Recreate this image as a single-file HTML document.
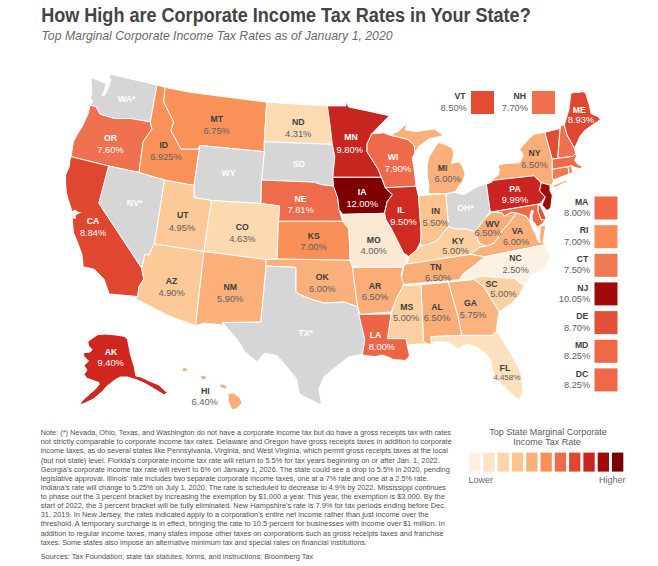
<!DOCTYPE html>
<html><head><meta charset="utf-8"><style>
html,body{margin:0;padding:0;background:#fff;}
body{width:658px;height:566px;overflow:hidden;position:relative;font-family:"Liberation Sans",sans-serif;}
svg{position:absolute;left:0;top:0;}
.c{font-family:"Liberation Sans",sans-serif;font-weight:bold;font-size:8.7px;text-anchor:middle;}
.r{font-family:"Liberation Sans",sans-serif;font-size:9.3px;text-anchor:middle;}
.e{text-anchor:end;}
.n{font-family:"Liberation Sans",sans-serif;font-size:7.2px;fill:#4f4f4f;}
.t{font-family:"Liberation Sans",sans-serif;font-weight:bold;font-size:20px;fill:#444444;}
.s{font-family:"Liberation Sans",sans-serif;font-style:italic;font-size:13px;fill:#6a6a6a;}
.lt{font-family:"Liberation Sans",sans-serif;font-size:9px;fill:#5a5a5a;text-anchor:middle;}
.lh{font-family:"Liberation Sans",sans-serif;font-size:9px;fill:#6a6a6a;}
</style></head><body>
<svg width="658" height="566" viewBox="0 0 658 566">
<text x="41.2" y="22.4" class="t" textLength="489.5" lengthAdjust="spacingAndGlyphs">How High are Corporate Income Tax Rates in Your State?</text>
<text x="41.5" y="40.1" class="s" textLength="351" lengthAdjust="spacingAndGlyphs">Top Marginal Corporate Income Tax Rates as of January 1, 2020</text>
<g stroke="#ffffff" stroke-width="1" stroke-linejoin="round">
<polygon fill="#d6d6d6" points="90.9,77.5 98.0,80.0 105.2,83.4 108.0,79.0 110.2,74.2 157.0,85.0 150.3,121.9 130.2,118.5 115.2,118.5 100.1,114.3 96.0,106.8 90.1,105.1 92.6,101.0 90.1,96.8 91.8,95.1"/>
<polygon fill="#f07150" points="90.1,105.1 96.0,106.8 100.1,114.3 115.2,118.5 130.2,118.5 150.3,121.9 152.0,129.0 143.0,142.0 139.0,172.5 108.6,166.0 71.0,156.6 73.4,141.8 78.0,133.0 82.0,127.0 88.0,114.0"/>
<polygon fill="#f99159" points="157.0,85.0 165.0,87.3 163.8,102.0 173.7,122.0 171.0,130.6 181.0,149.0 198.0,149.0 199.9,145.5 194.0,185.5 164.3,180.0 139.0,172.5 143.0,142.0 152.0,129.0 150.3,121.9"/>
<polygon fill="#f99159" points="165.0,87.3 190.0,92.3 266.7,102.2 264.3,141.8 264.3,151.7 199.9,145.5 198.0,149.0 181.0,149.0 171.0,130.6 173.7,122.0 163.8,102.0"/>
<polygon fill="#fcdbb3" points="266.7,102.2 327.4,105.9 330.0,125.0 332.3,144.3 264.3,141.8"/>
<polygon fill="#d6d6d6" points="264.3,141.8 332.3,144.3 334.8,156.6 332.8,177.3 336.0,186.3 331.6,185.9 321.7,184.7 314.3,182.2 261.5,180.0 264.3,151.7"/>
<polygon fill="#d6d6d6" points="199.9,145.5 264.3,151.7 261.5,180.0 261.0,203.5 211.3,200.5 194.0,197.5 194.0,185.5"/>
<polygon fill="#ee6b4b" points="261.5,180.0 314.3,182.2 321.7,184.7 331.6,185.9 336.0,186.3 337.8,198.3 339.0,209.4 342.7,221.3 278.4,221.3 279.6,206.0 261.0,203.5"/>
<polygon fill="#fcd9ae" points="211.3,200.5 261.0,203.5 279.6,206.0 278.4,221.3 277.1,258.9 266.1,259.5 203.9,251.5"/>
<polygon fill="#fbca98" points="164.3,180.0 194.0,185.5 194.0,197.5 211.3,200.5 203.9,251.5 154.4,244.0"/>
<polygon fill="#d6d6d6" points="108.6,166.0 139.0,172.5 164.3,180.0 154.4,244.0 153.5,245.0 149.2,255.0 144.7,254.6 143.8,260.0 141.5,268.0 98.8,203.2"/>
<polygon fill="#e04730" points="71.0,156.6 108.6,166.0 98.8,203.2 141.5,268.0 143.9,279.2 139.0,286.6 137.7,296.5 109.2,294.0 104.0,279.2 94.4,269.3 83.2,266.8 82.0,254.5 78.3,244.6 73.3,232.0 72.5,222.0 72.0,212.2 70.6,206.6 67.7,198.1 66.3,192.4 65.6,184.0 65.5,175.0 69.1,167.0 70.0,160.0"/>
<polygon fill="#fbca98" points="154.4,244.0 203.9,251.5 195.6,325.6 168.4,315.7 135.0,298.4 137.7,296.5 139.0,286.6 143.9,279.2 141.5,268.0 143.8,260.0 144.7,254.6 149.2,255.0 153.5,245.0"/>
<polygon fill="#fbb079" points="203.9,251.5 266.1,259.5 266.1,266.1 260.8,322.2 222.5,322.5 223.0,325.0 204.3,323.1 195.6,325.6"/>
<polygon fill="#fbb07c" points="266.1,259.5 277.1,258.9 350.1,260.1 352.7,267.3 354.0,279.7 357.7,306.9 344.0,302.0 324.3,303.2 311.9,299.5 299.5,294.6 295.8,292.1 295.8,267.3 266.1,266.1"/>
<polygon fill="#f99058" points="278.4,221.3 342.7,221.3 348.9,229.2 350.1,260.1 277.1,258.9"/>
<polygon fill="#d6d6d6" points="266.1,266.1 295.8,267.3 295.8,292.1 299.5,294.6 311.9,299.5 324.3,303.2 344.0,302.0 357.7,306.9 358.6,313.5 364.8,339.5 362.3,354.4 348.7,356.8 336.3,366.7 324.0,376.6 319.0,389.0 321.5,405.1 309.1,398.9 299.2,394.0 296.7,379.1 286.8,366.7 277.0,355.6 264.6,353.1 257.1,361.8 244.8,351.9 237.3,339.5 222.5,322.5 260.8,322.2"/>
<polygon fill="#c92520" points="327.4,105.9 346.0,105.9 346.0,101.0 348.6,107.0 367.0,110.8 389.4,115.8 371.7,133.8 367.0,144.0 367.0,151.7 378.0,169.0 381.5,177.3 332.8,177.3 334.8,156.6 332.3,144.3 330.0,125.0"/>
<polygon fill="#7f0000" points="332.8,177.3 381.5,177.3 385.4,187.7 392.4,194.7 387.1,201.8 384.5,213.3 342.7,214.4 339.0,209.4 337.8,198.3 333.5,186.0"/>
<polygon fill="#fde8d3" points="342.7,214.4 384.5,213.3 385.9,219.5 391.2,228.3 396.5,238.9 403.6,253.0 407.1,258.3 405.3,263.6 403.0,267.0 398.5,267.3 352.7,267.3 350.1,260.1 348.9,229.2 342.7,221.3"/>
<polygon fill="#ee6a4a" points="371.7,133.8 383.8,132.8 390.0,135.2 396.0,136.5 408.1,139.5 414.2,145.2 415.0,152.8 412.3,157.7 413.8,167.2 416.2,186.3 385.4,187.7 381.5,177.3 378.0,169.0 367.0,151.7 367.0,144.0"/>
<polygon fill="#fbb07c" points="390.0,135.2 398.0,131.5 404.3,125.9 407.5,122.7 405.1,129.9 417.0,131.5 426.6,129.9 434.5,129.1 439.3,132.3 443.3,135.4 437.7,137.0 429.7,138.6 425.0,141.8 418.6,146.6 415.0,152.8 414.2,145.2 408.1,139.5 396.0,136.5"/>
<polygon fill="#fbb07c" points="438.7,142.5 444.5,144.2 451.4,147.6 453.7,152.2 453.1,158.0 451.4,163.7 456.0,162.0 460.0,162.6 462.9,167.2 465.2,174.1 462.9,181.0 458.3,186.7 456.0,191.3 447.9,193.8 428.4,193.8 429.0,185.6 427.2,175.2 427.2,164.9 429.5,155.7 433.0,151.1 435.3,146.5"/>
<polygon fill="#cf2b21" points="385.4,187.7 416.2,186.3 417.7,193.0 418.6,196.5 421.2,233.6 420.4,242.4 416.8,249.5 408.9,256.6 403.6,253.0 396.5,238.9 391.2,228.3 385.9,219.5 384.5,213.3 387.1,201.8 392.4,194.7"/>
<polygon fill="#fcc38e" points="418.6,195.6 446.0,193.9 448.6,226.5 442.4,233.6 437.1,240.7 426.5,245.1 420.4,246.0 420.4,242.4 421.2,233.6"/>
<polygon fill="#d6d6d6" points="446.0,193.9 453.0,192.0 463.6,194.7 479.0,185.9 486.4,184.3 490.3,212.1 484.0,219.3 475.3,231.7 466.0,229.0 456.7,229.2 448.6,226.5"/>
<polygon fill="#fcd0a0" points="420.4,246.0 426.5,245.1 437.1,240.7 442.4,233.6 448.6,226.5 456.7,229.2 466.0,229.0 475.3,231.7 479.0,242.8 486.4,246.3 480.2,247.0 470.5,254.3 407.3,264.0 408.9,256.6 416.8,249.5"/>
<polygon fill="#fbad78" points="407.3,264.0 470.5,254.3 485.1,256.7 473.0,266.5 463.2,273.8 459.6,279.8 400.0,284.7 403.6,267.3 405.3,263.6"/>
<polygon fill="#fbad78" points="491.9,212.1 502.3,212.9 503.8,216.1 511.8,212.1 516.6,212.9 511.8,219.3 508.6,224.0 502.3,230.4 497.5,238.4 494.3,243.1 486.4,246.3 479.0,242.8 475.3,231.7 484.0,219.3"/>
<polygon fill="#fbb07c" points="486.4,246.3 494.3,243.1 497.5,238.4 502.3,230.4 508.6,224.0 511.8,219.3 516.6,212.9 526.1,216.1 530.9,222.5 537.2,227.2 540.4,236.8 541.2,241.5 545.9,244.6 485.1,256.7 470.5,254.3 480.2,247.0"/>
<polygon fill="#fdf1e4" points="485.1,256.7 545.9,244.6 550.8,256.7 545.9,266.5 531.3,276.2 524.0,285.9 514.3,278.6 497.3,277.4 482.7,276.2 473.0,278.6 459.6,279.8 463.2,273.8 473.0,266.5"/>
<polygon fill="#fcd0a0" points="473.0,278.6 482.7,276.2 497.3,277.4 514.3,278.6 524.0,285.9 519.2,295.7 511.9,303.0 499.0,311.9 484.0,287.1"/>
<polygon fill="#fbb37f" points="448.2,282.2 471.7,279.7 473.0,278.6 484.0,287.1 499.0,311.9 497.7,319.3 496.4,331.7 491.5,335.4 461.8,335.4 458.0,316.8"/>
<polygon fill="#fbad78" points="421.0,284.7 448.2,282.2 458.0,316.8 461.8,335.4 430.8,336.6 432.0,344.0 427.1,344.0 423.4,341.6"/>
<polygon fill="#fcd0a0" points="400.0,285.9 421.0,284.7 423.4,341.6 427.1,344.0 417.2,344.0 408.0,345.0 406.0,338.7 387.4,338.7 389.9,321.8 391.1,313.9 396.0,299.5 403.5,284.7"/>
<polygon fill="#fbad78" points="352.7,267.3 398.5,267.3 403.0,267.0 401.0,274.8 403.5,284.7 396.0,299.5 391.1,311.9 360.1,314.4 357.7,306.9 354.0,279.7"/>
<polygon fill="#ec6546" points="360.1,314.4 391.1,313.9 389.9,321.8 387.4,338.7 406.0,338.7 407.9,348.7 409.5,355.0 408.0,358.0 405.0,360.5 400.0,360.0 393.3,359.6 388.0,357.0 382.3,355.0 375.0,356.5 368.7,356.0 362.3,355.0 364.8,339.5 358.6,313.5"/>
<polygon fill="#fde0bd" points="430.8,336.6 461.8,335.4 491.5,335.4 496.4,331.7 499.4,335.0 511.8,354.8 521.7,374.6 523.0,391.9 519.2,400.5 509.3,391.9 497.0,379.5 492.0,369.6 490.5,360.0 485.7,353.7 478.8,348.3 469.2,344.2 462.0,346.0 458.3,349.0 453.0,345.0 447.4,342.1 435.0,341.4 432.0,344.0"/>
<polygon fill="#cc2420" points="486.4,184.3 491.9,181.9 492.7,179.5 534.0,175.6 541.2,182.7 539.6,190.7 545.2,197.0 540.4,203.4 538.0,204.2 490.3,212.1"/>
<polygon fill="#fbad78" points="492.4,180.4 494.0,178.0 498.5,175.0 499.3,169.8 498.0,165.5 504.0,163.7 513.0,163.0 519.6,162.8 523.3,155.4 519.6,149.2 533.2,134.4 544.8,132.3 552.3,159.2 552.3,169.4 552.5,179.0 554.1,179.6 552.0,185.0 550.0,185.1 541.2,182.7 534.0,175.6"/>
<polygon fill="#fca66f" points="552.0,186.0 566.0,180.0 568.0,181.0 555.0,187.5"/>
<polygon fill="#a00a0a" points="541.2,182.7 550.0,185.1 550.0,190.7 552.3,195.4 550.7,208.2 546.8,210.5 542.0,205.0 545.2,197.0 539.6,190.7"/>
<polygon fill="#e34c33" points="544.8,132.3 559.7,128.6 560.6,125.8 559.7,133.2 557.8,158.3 552.3,159.2"/>
<polygon fill="#f07150" points="564.3,124.9 567.1,135.1 574.5,148.1 575.5,153.6 572.7,156.4 557.8,158.3 559.7,133.2 560.6,125.8"/>
<polygon fill="#e04730" points="570.8,93.3 574.5,92.4 579.2,92.4 582.9,91.5 585.7,93.3 589.4,105.4 591.2,113.8 597.7,116.5 600.5,119.3 596.8,122.1 591.2,125.8 584.7,130.5 580.1,136.0 577.3,142.5 574.5,148.1 567.1,135.1 564.3,124.9 569.0,109.1"/>
<polygon fill="#f06a48" points="552.3,159.2 557.8,158.3 572.7,156.4 575.5,153.6 576.4,156.4 574.5,160.1 578.2,164.8 582.9,166.6 580.1,168.5 575.5,167.6 571.7,165.7 568.0,166.6 552.3,169.4"/>
<polygon fill="#f07a50" points="552.3,169.4 568.0,166.6 569.0,174.0 554.1,179.6 552.5,179.0"/>
<polygon fill="#fb8c5a" points="568.0,166.6 571.7,165.7 572.7,173.1 569.0,174.0"/>
<polygon fill="#e0503a" points="538.0,204.2 540.4,205.8 545.2,216.1 546.0,219.3 541.2,220.1 538.0,211.3"/>
<polygon fill="#ef6848" points="491.9,212.1 538.0,204.2 538.0,211.3 541.2,220.1 546.0,219.3 542.0,224.0 537.2,227.2 534.0,222.0 530.9,222.5 526.1,216.1 516.6,212.9 511.8,212.1 503.8,216.1 502.3,212.9"/>
<polygon fill="#d02620" points="93.0,337.8 97.5,334.8 105.0,334.0 114.0,334.8 124.5,336.3 127.5,339.3 130.6,355.0 134.3,367.0 135.8,376.0 141.0,377.0 149.4,381.1 158.5,384.7 167.6,393.0 164.0,394.8 154.8,389.3 145.7,383.8 137.0,380.0 127.5,377.0 120.0,377.0 115.5,379.5 111.0,383.0 106.5,386.6 102.8,391.0 97.5,395.6 93.0,399.3 84.0,403.5 80.0,405.0 82.0,401.0 88.0,395.5 95.0,389.5 99.0,384.5 99.0,382.5 93.0,380.5 87.0,378.3 84.0,374.5 87.0,370.0 84.0,365.5 88.5,361.0 84.0,356.5 83.3,352.8 90.0,352.0 92.3,349.8 88.5,346.0 87.8,341.5"/>
<g fill="#fbab74" stroke="none"><ellipse cx="184.8" cy="369.6" rx="2.2" ry="1.6"/><ellipse cx="203.4" cy="377.5" rx="2.4" ry="1.8"/><polygon points="220,385 223,384.5 226.5,386.5 226,388.5 221,387"/><polygon points="228.5,394 233.5,393.5 239.5,398 241.5,403 236,408.5 232,409 229,402"/></g>
<polygon fill="#ffffff" stroke="none" points="531.5,209.6 534,211 532.5,216 533,221 536,226 538.5,232 540,238 540.5,243 538,242 535.5,235 532,228.5 529.5,222 529.5,215"/>
<polygon fill="#fbab74" stroke="none" points="541,226.5 545.2,225.5 543.5,236 542.2,244 540,238"/>
<polygon fill="#ffffff" stroke="none" points="109,75.5 111.5,80 108.5,88.4 105.2,95.1 101,96.5 103.5,91.8 105.2,85 107.5,80"/>
<polygon fill="#ffffff" stroke="none" points="72,211.5 74.8,209.4 78.3,212 81.9,212.2 78.3,213.8 75.5,215.8 76,219.3 72.7,218"/>
</g>
<text x="126.6" y="101.7" class="c" fill="#ffffff">WA*</text>
<text x="110.5" y="141.2" class="c" fill="#ffffff">OR</text>
<text x="110.5" y="153.1" class="r" fill="#ffffff">7.60%</text>
<text x="163.8" y="147.5" class="c" fill="#3d3d3d">ID</text>
<text x="166" y="160.0" class="r" fill="#616161">6.925%</text>
<text x="134.6" y="206.2" class="c" fill="#ffffff">NV*</text>
<text x="93.1" y="224.2" class="c" fill="#ffffff">CA</text>
<text x="93.1" y="235.6" class="r" fill="#ffffff">8.84%</text>
<text x="216.7" y="121.5" class="c" fill="#3d3d3d">MT</text>
<text x="216.7" y="133.5" class="r" fill="#616161">6.75%</text>
<text x="298.2" y="124.7" class="c" fill="#3d3d3d">ND</text>
<text x="298.2" y="136.5" class="r" fill="#616161">4.31%</text>
<text x="298.9" y="167.2" class="c" fill="#ffffff">SD</text>
<text x="228.5" y="176.2" class="c" fill="#ffffff">WY</text>
<text x="300.6" y="201.5" class="c" fill="#ffffff">NE</text>
<text x="300.6" y="213.3" class="r" fill="#ffffff">7.81%</text>
<text x="182.8" y="218.1" class="c" fill="#3d3d3d">UT</text>
<text x="182" y="230.6" class="r" fill="#616161">4.95%</text>
<text x="242.2" y="230.2" class="c" fill="#3d3d3d">CO</text>
<text x="242.4" y="241.7" class="r" fill="#616161">4.63%</text>
<text x="313.8" y="238.6" class="c" fill="#3d3d3d">KS</text>
<text x="313.8" y="250.3" class="r" fill="#616161">7.00%</text>
<text x="373.7" y="242.8" class="c" fill="#3d3d3d">MO</text>
<text x="373.7" y="254.4" class="r" fill="#616161">4.00%</text>
<text x="322.3" y="279.9" class="c" fill="#3d3d3d">OK</text>
<text x="322.3" y="291.8" class="r" fill="#616161">6.00%</text>
<text x="171.6" y="283.5" class="c" fill="#3d3d3d">AZ</text>
<text x="171.6" y="295.6" class="r" fill="#616161">4.90%</text>
<text x="230.2" y="289.9" class="c" fill="#3d3d3d">NM</text>
<text x="230.2" y="301.8" class="r" fill="#616161">5.90%</text>
<text x="305.7" y="336.1" class="c" fill="#ffffff">TX*</text>
<text x="375" y="288.6" class="c" fill="#3d3d3d">AR</text>
<text x="375" y="299.9" class="r" fill="#616161">6.50%</text>
<text x="375.5" y="338.2" class="c" fill="#ffffff">LA</text>
<text x="381.9" y="349.6" class="r" fill="#ffffff">8.00%</text>
<text x="351" y="140.0" class="c" fill="#ffffff">MN</text>
<text x="349.8" y="152.6" class="r" fill="#ffffff">9.80%</text>
<text x="393.1" y="159.8" class="c" fill="#ffffff">WI</text>
<text x="398" y="171.9" class="r" fill="#ffffff">7.90%</text>
<text x="442.6" y="170.5" class="c" fill="#3d3d3d">MI</text>
<text x="447.6" y="181.8" class="r" fill="#616161">6.00%</text>
<text x="362.2" y="195.0" class="c" fill="#ffffff">IA</text>
<text x="362.2" y="207.1" class="r" fill="#ffffff">12.00%</text>
<text x="401" y="212.6" class="c" fill="#ffffff">IL</text>
<text x="403.5" y="224.7" class="r" fill="#ffffff">9.50%</text>
<text x="435.7" y="213.8" class="c" fill="#3d3d3d">IN</text>
<text x="435.7" y="225.7" class="r" fill="#616161">5.50%</text>
<text x="465.4" y="211.4" class="c" fill="#ffffff">OH*</text>
<text x="515" y="191.6" class="c" fill="#ffffff">PA</text>
<text x="515" y="202.9" class="r" fill="#ffffff">9.99%</text>
<text x="492.6" y="226.7" class="c" fill="#3d3d3d">WV</text>
<text x="487.8" y="236.3" class="r" fill="#616161">6.50%</text>
<text x="517.4" y="233.6" class="c" fill="#3d3d3d">VA</text>
<text x="516.1" y="245.4" class="r" fill="#616161">6.00%</text>
<text x="458" y="243.5" class="c" fill="#3d3d3d">KY</text>
<text x="455.5" y="253.6" class="r" fill="#616161">5.00%</text>
<text x="435.7" y="269.5" class="c" fill="#3d3d3d">TN</text>
<text x="438.2" y="280.9" class="r" fill="#616161">6.50%</text>
<text x="515.6" y="261.4" class="c" fill="#3d3d3d">NC</text>
<text x="515.6" y="273.4" class="r" fill="#616161">2.50%</text>
<text x="491.5" y="287.4" class="c" fill="#3d3d3d">SC</text>
<text x="503.4" y="296.7" class="r" fill="#616161">5.00%</text>
<text x="406.8" y="309.6" class="c" fill="#3d3d3d">MS</text>
<text x="406.1" y="320.7" class="r" fill="#616161">5.00%</text>
<text x="437" y="309.6" class="c" fill="#3d3d3d">AL</text>
<text x="437" y="320.7" class="r" fill="#616161">6.50%</text>
<text x="470.4" y="305.9" class="c" fill="#3d3d3d">GA</text>
<text x="472.9" y="317.8" class="r" fill="#616161">5.75%</text>
<text x="534.5" y="156.1" class="c" fill="#3d3d3d">NY</text>
<text x="534.5" y="168.0" class="r" fill="#616161">6.50%</text>
<text x="579.2" y="113.2" class="c" fill="#ffffff">ME</text>
<text x="581" y="123.4" class="r" fill="#ffffff">8.93%</text>
<text x="111" y="355.1" class="c" fill="#ffffff">AK</text>
<text x="110.7" y="366.3" class="r" fill="#ffffff">9.40%</text>
<text x="205.3" y="393.5" class="c" fill="#3d3d3d">HI</text>
<text x="204.7" y="405.2" class="r" fill="#616161">6.40%</text>
<text x="504.9" y="370.9" class="c" fill="#3d3d3d" style="font-size:9px">FL</text>
<text x="506.8" y="379.5" class="r" fill="#616161" style="font-size:8px">4.458%</text>
<rect x="594.5" y="196.5" width="23" height="23" fill="#f06a48"/>
<text x="588.4" y="204.6" class="c e" fill="#3d3d3d">MA</text>
<text x="590.3" y="216.1" class="r e" fill="#616161">8.00%</text>
<rect x="594.5" y="225.2" width="23" height="23" fill="#fb8c5a"/>
<text x="588.4" y="233.2" class="c e" fill="#3d3d3d">RI</text>
<text x="590.3" y="244.8" class="r e" fill="#616161">7.00%</text>
<rect x="594.5" y="253.8" width="23" height="23" fill="#f07a50"/>
<text x="588.4" y="261.9" class="c e" fill="#3d3d3d">CT</text>
<text x="590.3" y="273.4" class="r e" fill="#616161">7.50%</text>
<rect x="594.5" y="282.4" width="23" height="23" fill="#a00a0a"/>
<text x="588.4" y="290.6" class="c e" fill="#3d3d3d">NJ</text>
<text x="590.3" y="302.1" class="r e" fill="#616161">10.05%</text>
<rect x="594.5" y="311.1" width="23" height="23" fill="#e0503a"/>
<text x="588.4" y="319.2" class="c e" fill="#3d3d3d">DE</text>
<text x="590.3" y="330.7" class="r e" fill="#616161">8.70%</text>
<rect x="594.5" y="339.8" width="23" height="23" fill="#ef6848"/>
<text x="588.4" y="347.9" class="c e" fill="#3d3d3d">MD</text>
<text x="590.3" y="359.4" class="r e" fill="#616161">8.25%</text>
<rect x="594.5" y="368.4" width="23" height="23" fill="#ef6848"/>
<text x="588.4" y="376.5" class="c e" fill="#3d3d3d">DC</text>
<text x="590.3" y="388.0" class="r e" fill="#616161">8.25%</text>
<rect x="471" y="91" width="23" height="23" fill="#e34c33"/>
<text x="465.6" y="99.1" class="c e" fill="#3d3d3d">VT</text>
<text x="466.9" y="110.6" class="r e" fill="#616161">8.50%</text>
<rect x="532" y="91" width="23" height="23" fill="#f07150"/>
<text x="526" y="99.1" class="c e" fill="#3d3d3d">NH</text>
<text x="528" y="110.6" class="r e" fill="#616161">7.70%</text>
<rect x="469.0" y="452.6" width="11.3" height="19" fill="#fdf1e4"/>
<rect x="483.3" y="452.6" width="11.3" height="19" fill="#fce3c9"/>
<rect x="497.6" y="452.6" width="11.3" height="19" fill="#fcd5ad"/>
<rect x="511.9" y="452.6" width="11.3" height="19" fill="#fcc490"/>
<rect x="526.2" y="452.6" width="11.3" height="19" fill="#fbb079"/>
<rect x="540.5" y="452.6" width="11.3" height="19" fill="#f98f59"/>
<rect x="554.8" y="452.6" width="11.3" height="19" fill="#ef6b4b"/>
<rect x="569.1" y="452.6" width="11.3" height="19" fill="#e04730"/>
<rect x="583.4" y="452.6" width="11.3" height="19" fill="#c92520"/>
<rect x="597.7" y="452.6" width="11.3" height="19" fill="#a00a0a"/>
<rect x="612.0" y="452.6" width="11.3" height="19" fill="#7a0000"/>
<text x="548" y="434.6" class="lt">Top State Marginal Corporate</text>
<text x="547" y="445" class="lt">Income Tax Rate</text>
<text x="468.4" y="482.7" class="lh">Lower</text>
<text x="625.5" y="482.7" class="lh" text-anchor="end">Higher</text>
<text x="40.7" y="435.20" class="n" textLength="410.3" lengthAdjust="spacingAndGlyphs">Note: (*) Nevada, Ohio, Texas, and Washington do not have a corporate income tax but do have a gross receipts tax with rates</text>
<text x="40.7" y="444.32" class="n" textLength="411.1" lengthAdjust="spacingAndGlyphs">not strictly comparable to corporate income tax rates. Delaware and Oregon have gross receipts taxes in addition to corporate</text>
<text x="40.7" y="453.44" class="n" textLength="407.1" lengthAdjust="spacingAndGlyphs">income taxes, as do several states like Pennsylvania, Virginia, and West Virginia, which permit gross receipts taxes at the local</text>
<text x="40.7" y="462.56" class="n" textLength="399.1" lengthAdjust="spacingAndGlyphs">(but not state) level. Florida's corporate income tax rate will return to 5.5% for tax years beginning on or after Jan. 1, 2022.</text>
<text x="40.7" y="471.68" class="n" textLength="409.1" lengthAdjust="spacingAndGlyphs">Georgia's corporate income tax rate will revert to 6% on January 1, 2026. The state could see a drop to 5.5% in 2020, pending</text>
<text x="40.7" y="480.80" class="n" textLength="387.9" lengthAdjust="spacingAndGlyphs">legislative approval. Illinois' rate includes two separate corporate income taxes, one at a 7% rate and one at a 2.5% rate.</text>
<text x="40.7" y="489.92" class="n" textLength="405.3" lengthAdjust="spacingAndGlyphs">Indiana's rate will change to 5.25% on July 1, 2020. The rate is scheduled to decrease to 4.9% by 2022. Mississippi continues</text>
<text x="40.7" y="499.04" class="n" textLength="404.1" lengthAdjust="spacingAndGlyphs">to phase out the 3 percent bracket by increasing the exemption by &#36;1,000 a year. This year, the exemption is &#36;3,000. By the</text>
<text x="40.7" y="508.16" class="n" textLength="405.3" lengthAdjust="spacingAndGlyphs">start of 2022, the 3 percent bracket will be fully eliminated. New Hampshire's rate is 7.9% for tax periods ending before Dec.</text>
<text x="40.7" y="517.28" class="n" textLength="387.9" lengthAdjust="spacingAndGlyphs">31, 2019. In New Jersey, the rates indicated apply to a corporation's entire net income rather than just income over the</text>
<text x="40.7" y="526.40" class="n" textLength="404.1" lengthAdjust="spacingAndGlyphs">threshold. A temporary surcharge is in effect, bringing the rate to 10.5 percent for businesses with income over &#36;1 million. In</text>
<text x="40.7" y="535.52" class="n" textLength="402.9" lengthAdjust="spacingAndGlyphs">addition to regular income taxes, many states impose other taxes on corporations such as gross receipts taxes and franchise</text>
<text x="40.7" y="544.64" class="n" textLength="326.3" lengthAdjust="spacingAndGlyphs">taxes. Some states also impose an alternative minimum tax and special rates on financial institutions.</text>
<text x="40.7" y="559.3" class="n" textLength="272.5" lengthAdjust="spacingAndGlyphs">Sources: Tax Foundation; state tax statutes, forms, and instructions; Bloomberg Tax</text>
</svg>
</body></html>
